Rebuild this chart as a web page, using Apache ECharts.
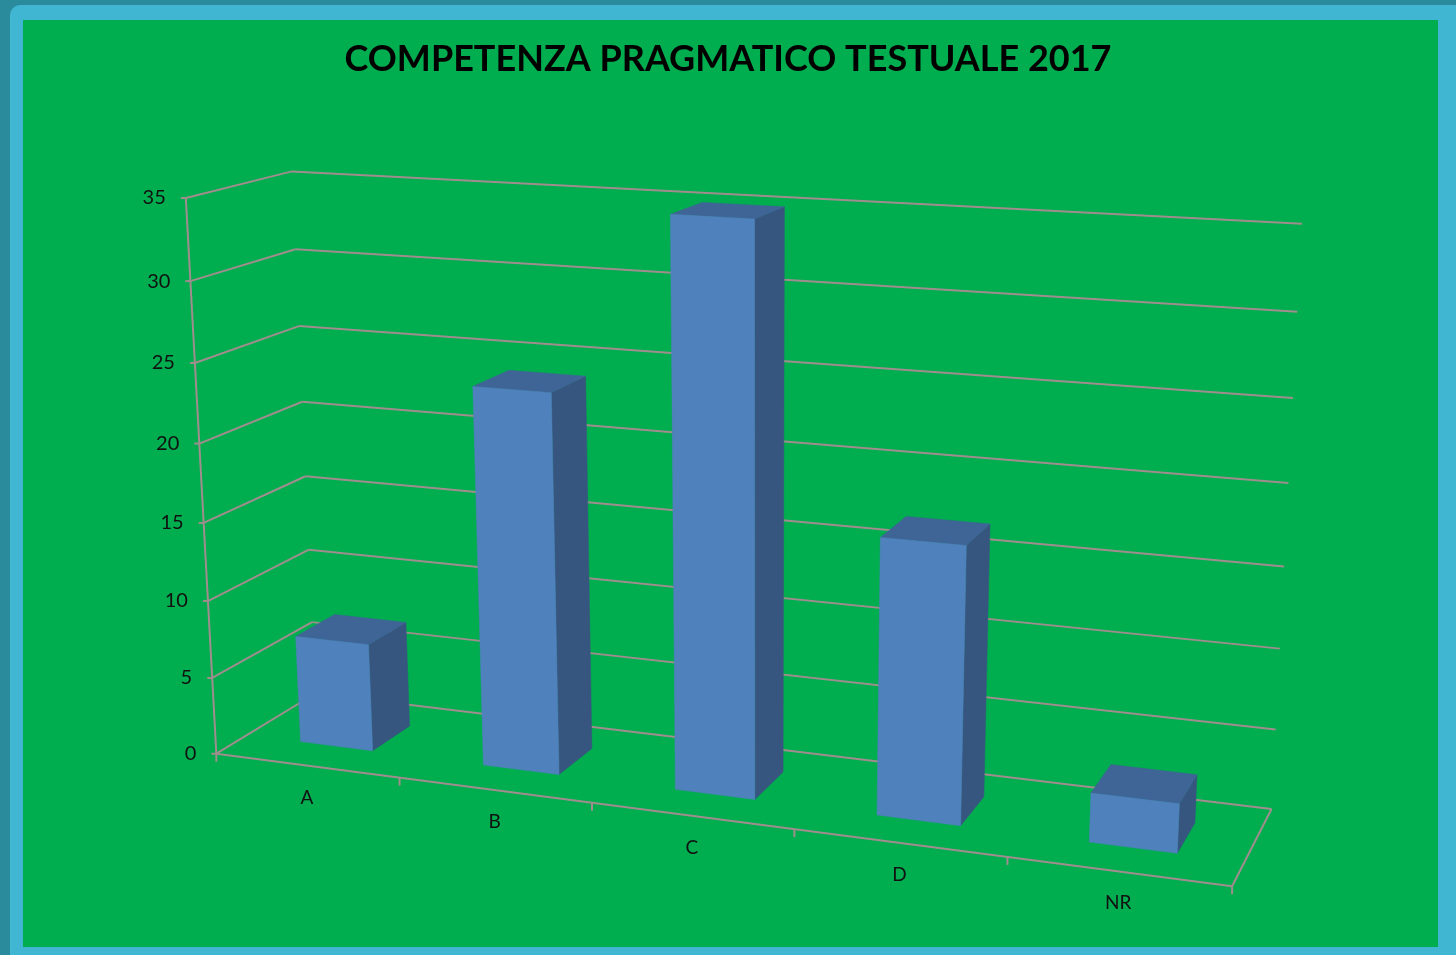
<!DOCTYPE html>
<html>
<head>
<meta charset="utf-8">
<title>Competenza pragmatico testuale 2017</title>
<script src="https://cdn.jsdelivr.net/npm/echarts@6/dist/echarts.min.js"></script>
<style>
  html, body { margin: 0; padding: 0; background: #2a8b9d; overflow: hidden; }
  #frame { position: absolute; left: 10px; top: 5px; width: 1446px; height: 950px; background: #41b6d3; border-radius: 10px 0 0 0; }
  #chart { position: absolute; left: 0; top: 0; width: 1456px; height: 955px; }
</style>
</head>
<body>
<div id="frame"></div>
<div id="chart"></div>
<script>
const categories = ['A', 'B', 'C', 'D', 'NR'];
const values = [7, 24, 35, 17, 3];
const yTicks = [0, 5, 10, 15, 20, 25, 30, 35];
const yMax = 35;

// corners of the 3d box: [x, y, z] (0..1) -> screen px
// x = category axis, y = value axis, z = depth (0 front, 1 back)
const calib = [
  [0, 0 / 7, 0, 217, 753], [0, 1 / 7, 0, 212, 677], [0, 2 / 7, 0, 207, 601], [0, 3 / 7, 0, 204, 522],
  [0, 4 / 7, 0, 199, 444], [0, 5 / 7, 0, 195, 362], [0, 6 / 7, 0, 190, 281], [0, 7 / 7, 0, 187, 199],
  [0, 0 / 7, 1, 317, 695], [0, 1 / 7, 1, 313, 622], [0, 2 / 7, 1, 308, 549], [0, 3 / 7, 1, 304, 476],
  [0, 4 / 7, 1, 302, 402], [0, 5 / 7, 1, 299, 326], [0, 6 / 7, 1, 295, 249], [0, 7 / 7, 1, 292, 172],
  [1, 0 / 7, 1, 1271, 809], [1, 1 / 7, 1, 1276, 729], [1, 2 / 7, 1, 1280, 648], [1, 3 / 7, 1, 1284, 566],
  [1, 4 / 7, 1, 1288, 483], [1, 5 / 7, 1, 1293, 398], [1, 6 / 7, 1, 1297, 312], [1, 7 / 7, 1, 1303, 224],
  [0.2, 0, 0, 399, 778], [0.4, 0, 0, 592, 804], [0.6, 0, 0, 795, 830], [0.8, 0, 0, 1007, 857], [1, 0, 0, 1232, 886]
];

// least squares fit of a 3x4 projection (DLT)
function fitProjection(points) {
  const n = 11, s = 1000;
  const A = Array.from({ length: n }, () => new Array(n + 1).fill(0));
  const addRow = (row, rhs) => {
    for (let r = 0; r < n; r++) {
      for (let c = 0; c < n; c++) A[r][c] += row[r] * row[c];
      A[r][n] += row[r] * rhs;
    }
  };
  points.forEach(([X, Y, Z, u0, v0]) => {
    const u = u0 / s, v = v0 / s;
    addRow([X, Y, Z, 1, 0, 0, 0, 0, -u * X, -u * Y, -u * Z], u);
    addRow([0, 0, 0, 0, X, Y, Z, 1, -v * X, -v * Y, -v * Z], v);
  });
  for (let col = 0; col < n; col++) {
    let piv = col;
    for (let r = col + 1; r < n; r++) if (Math.abs(A[r][col]) > Math.abs(A[piv][col])) piv = r;
    [A[col], A[piv]] = [A[piv], A[col]];
    for (let r = 0; r < n; r++) {
      if (r === col) continue;
      const f = A[r][col] / A[col][col];
      for (let c = col; c <= n; c++) A[r][c] -= f * A[col][c];
    }
  }
  const m = A.map((row, i) => row[n] / row[i]);
  return (X, Y, Z) => {
    const w = m[8] * X + m[9] * Y + m[10] * Z + 1;
    return [s * (m[0] * X + m[1] * Y + m[2] * Z + m[3]) / w, s * (m[4] * X + m[5] * Y + m[6] * Z + m[7]) / w];
  };
}
const P = fitProjection(calib);

const LINE = '#a08d8d';
const FONT = 'Lato';
const Z0 = 0.3, Z1 = 0.7;

// normalise pixel coords of the hidden grid into 0..1
function norm(params) {
  const cs = params.coordSys;
  return {
    x: px => (px - cs.x) / cs.width,
    y: py => (cs.y + cs.height - py) / cs.height
  };
}
const seg = (a, b, w) => ({
  type: 'line', shape: { x1: a[0], y1: a[1], x2: b[0], y2: b[1] },
  style: { stroke: LINE, lineWidth: w || 2 }
});

const chart = echarts.init(document.getElementById('chart'));
chart.setOption({
  animation: false,
  backgroundColor: 'transparent',
  title: {
    text: 'COMPETENZA PRAGMATICO TESTUALE 2017',
    left: 'center',
    top: 36,
    textStyle: { fontFamily: FONT, fontWeight: 'bold', fontSize: 36, color: '#000' }
  },
  graphic: [{
    type: 'rect', z: -10, silent: true,
    shape: { x: 23, y: 20, width: 1415, height: 927 },
    style: { fill: '#00ad4f' }
  }],
  grid: { left: 200, top: 150, width: 1000, height: 600 },
  xAxis: { type: 'category', data: categories, show: false },
  yAxis: { type: 'value', min: 0, max: yMax, interval: 5, show: false },
  series: [
    {
      // walls, value axis, tick labels
      type: 'custom',
      z: 1,
      data: yTicks.map(t => [0, t]),
      renderItem(params, api) {
        const n = norm(params);
        const t = api.value(1);
        const Y = n.y(api.coord([0, t])[1]);
        const f = P(0, Y, 0), b = P(0, Y, 1), r = P(1, Y, 1);
        const children = [
          seg(f, b), seg(b, r),
          seg([f[0] - 5, f[1]], f),
          {
            type: 'text', x: f[0] - 20, y: f[1],
            style: { text: String(t), fontFamily: FONT, fontSize: 20, fill: '#111', align: 'right', verticalAlign: 'middle' }
          }
        ];
        if (t === 0) {
          children.push(seg(P(0, 0, 0), P(0, 1, 0)));
          children.push(seg(P(0, 0, 0), P(1, 0, 0)));
          children.push(seg(P(1, 0, 0), P(1, 0, 1)));
        }
        return { type: 'group', children };
      }
    },
    {
      // category ticks and labels on the front floor edge
      type: 'custom',
      z: 1,
      data: categories.map((c, i) => [i, 0]),
      renderItem(params, api) {
        const n = norm(params);
        const i = api.value(0);
        const c = api.coord([i, 0]);
        const bw = api.size([1, 0])[0];
        const left = P(n.x(c[0] - bw / 2), 0, 0);
        const mid = P(n.x(c[0]), 0, 0);
        const children = [
          seg(left, [left[0], left[1] + 8]),
          {
            type: 'text', x: mid[0], y: mid[1] + 32,
            style: { text: categories[i], fontFamily: FONT, fontSize: 19, fill: '#111', align: 'center', verticalAlign: 'middle' }
          }
        ];
        if (i === categories.length - 1) {
          const right = P(n.x(c[0] + bw / 2), 0, 0);
          children.push(seg(right, [right[0], right[1] + 8]));
        }
        return { type: 'group', children };
      }
    },
    {
      // 3d columns
      type: 'custom',
      z: 2,
      data: values.map((v, i) => [i, v]),
      renderItem(params, api) {
        const n = norm(params);
        const i = api.value(0);
        const top = api.coord([i, api.value(1)]);
        const base = api.coord([i, 0]);
        const bw = api.size([1, 0])[0];
        const x0 = n.x(top[0] - bw * 0.2), x1 = n.x(top[0] + bw * 0.2);
        const y0 = n.y(base[1]), y1 = n.y(top[1]);
        const face = (pts, fill) => ({
          type: 'polygon', shape: { points: pts },
          style: { fill, stroke: fill, lineWidth: 0.5 }
        });
        return {
          type: 'group',
          children: [
            face([P(x1, y0, Z0), P(x1, y0, Z1), P(x1, y1, Z1), P(x1, y1, Z0)], '#36567f'),
            face([P(x0, y1, Z0), P(x1, y1, Z0), P(x1, y1, Z1), P(x0, y1, Z1)], '#3f6496'),
            face([P(x0, y0, Z0), P(x1, y0, Z0), P(x1, y1, Z0), P(x0, y1, Z0)], '#4f81bd')
          ]
        };
      }
    }
  ]
});
</script>
</body>
</html>
